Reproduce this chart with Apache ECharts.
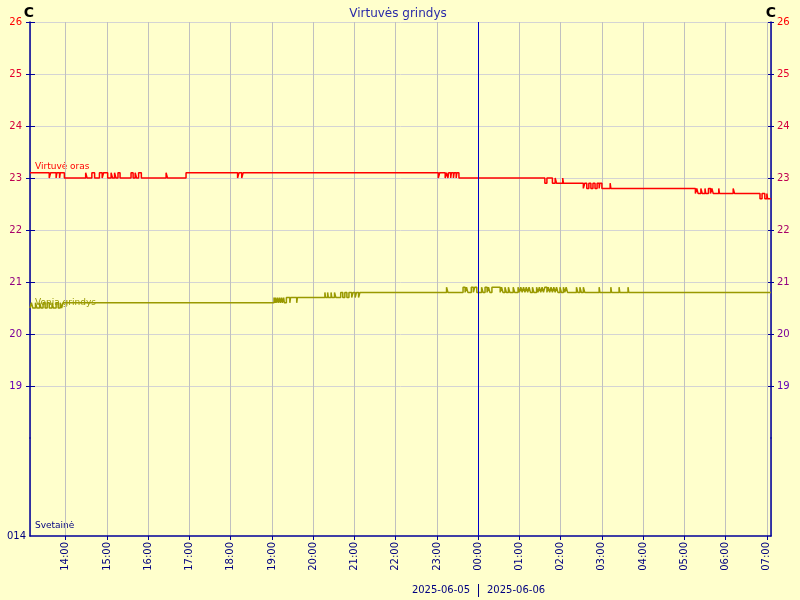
<!DOCTYPE html>
<html><head><meta charset="utf-8">
<script src="https://cdn.jsdelivr.net/npm/echarts@6/dist/echarts.min.js"></script>
<style>html,body{margin:0;padding:0;background:#ffffcc}#c{width:800px;height:600px}</style>
</head><body><div id="c"></div>
<script>
const chartTitle = 'Virtuvės grindys';
const unitLabel = 'C';
const seriesNames = ['Virtuvė oras', 'Vonia grindys', 'Svetainė'];
const dateLeft = '2025-06-05';
const dateRight = '2025-06-06';
const xStartTime = '13:08';
const xEndTime = '07:06';
const dayBreakTime = '00:00';
const lowerAxisLabel = '014';

const airTime = ['13:08','13:36','13:38','13:46','13:47','13:51','13:52','13:58','14:29','14:31','14:38','14:42','14:49','14:53','14:55','15:01','15:06','15:08','15:11','15:13','15:16','15:19','15:35','15:38','15:41','15:43','15:46','15:50','16:26','16:28','16:55','18:10','18:12','18:16','18:18','23:02','23:04','23:12','23:14','23:16','23:17','23:20','23:21','23:24','23:25','23:28','23:29','23:32','01:37','01:40','01:48','01:52','01:54','02:03','02:04','02:33','02:35','02:38','02:41','02:44','02:47','02:50','02:53','02:56','02:57','03:00','03:12','03:13','05:16','05:18','05:20','05:24','05:26','05:30','05:31','05:35','05:38','05:40','05:42','05:50','05:51','06:11','06:13','06:50','06:53','06:57','07:00','07:01','07:06'];
const airTemp = [23.1,23.0,23.1,23.0,23.1,23.0,23.1,23.0,23.1,23.0,23.1,23.0,23.1,23.0,23.1,23.0,23.1,23.0,23.1,23.0,23.1,23.0,23.1,23.0,23.1,23.0,23.1,23.0,23.1,23.0,23.1,23.0,23.1,23.0,23.1,23.0,23.1,23.0,23.1,23.0,23.1,23.0,23.1,23.0,23.1,23.0,23.1,23.0,22.9,23.0,22.9,23.0,22.9,23.0,22.9,22.8,22.9,22.8,22.9,22.8,22.9,22.8,22.9,22.8,22.9,22.8,22.9,22.8,22.7,22.8,22.7,22.8,22.7,22.8,22.7,22.8,22.7,22.8,22.7,22.8,22.7,22.8,22.7,22.6,22.7,22.6,22.7,22.6,22.6];

const floorTime = ['13:08','13:10','13:12','13:16','13:18','13:22','13:24','13:27','13:30','13:33','13:36','13:40','13:42','13:46','13:49','13:52','13:54','13:56','19:03','19:04','19:05','19:06','19:08','19:09','19:11','19:12','19:14','19:15','19:17','19:18','19:21','19:26','19:27','19:36','19:37','20:17','20:18','20:21','20:22','20:26','20:27','20:31','20:33','20:40','20:43','20:46','20:49','20:52','20:56','20:58','21:01','21:03','21:06','21:08','23:14','23:16','23:38','23:41','23:43','23:45','23:50','23:53','23:55','23:58','00:05','00:07','00:10','00:13','00:15','00:17','00:20','00:32','00:34','00:36','00:39','00:41','00:44','00:46','00:51','00:53','00:58','01:00','01:02','01:04','01:06','01:08','01:10','01:12','01:14','01:16','01:19','01:21','01:25','01:27','01:29','01:31','01:33','01:35','01:37','01:40','01:42','01:44','01:46','01:48','01:50','01:52','01:54','01:56','01:59','02:01','02:04','02:06','02:08','02:10','02:23','02:25','02:28','02:30','02:33','02:35','02:56','02:57','03:13','03:14','03:25','03:26','03:38','03:39','07:06'];
const floorTemp = [20.5,20.6,20.5,20.6,20.5,20.6,20.5,20.6,20.5,20.6,20.5,20.6,20.5,20.6,20.5,20.6,20.5,20.6,20.7,20.6,20.7,20.6,20.7,20.6,20.7,20.6,20.7,20.6,20.7,20.6,20.7,20.6,20.7,20.6,20.7,20.8,20.7,20.8,20.7,20.8,20.7,20.8,20.7,20.8,20.7,20.8,20.7,20.8,20.7,20.8,20.7,20.8,20.7,20.8,20.9,20.8,20.9,20.8,20.9,20.8,20.9,20.8,20.9,20.8,20.9,20.8,20.9,20.8,20.9,20.8,20.9,20.8,20.9,20.8,20.9,20.8,20.9,20.8,20.9,20.8,20.9,20.8,20.9,20.8,20.9,20.8,20.9,20.8,20.9,20.8,20.9,20.8,20.9,20.8,20.9,20.8,20.9,20.8,20.9,20.8,20.9,20.8,20.9,20.8,20.9,20.8,20.9,20.8,20.9,20.8,20.9,20.8,20.9,20.8,20.9,20.8,20.9,20.8,20.9,20.8,20.9,20.8,20.9,20.8,20.9,20.8,20.9,20.8,20.8];

const yTickLabels = [19, 20, 21, 22, 23, 24, 25, 26];
const yMin = 18, yMax = 26;

// colours of the tick labels, from top (26) to bottom (19)
const labelColors = {26:'#ff0000',25:'#e6002c',24:'#d4003c',23:'#c00052',22:'#a8006a',21:'#920082',20:'#7a009c',19:'#6400b8'};

function toTs(hhmm) {
  const [h, m] = hhmm.split(':').map(Number);
  const day = h < 12 ? 6 : 5;
  return new Date(2025, 5, day, h, m).getTime();
}
function pad(n){ return (n < 10 ? '0' : '') + n; }

const airData = airTime.map((t, i) => [toTs(t), airTemp[i]]);
const floorData = floorTime.map((t, i) => [toTs(t), floorTemp[i]]);
const xMin = toTs(xStartTime), xMax = toTs(xEndTime), dayBreak = toTs(dayBreakTime);

const FONT = 'DejaVu Sans';
const AX = '#000099';
const VGRID = '#c0c0c0';
const HGRID = '#d4d4d4';

const chart = echarts.init(document.getElementById('c'), null, {renderer: 'canvas'});

const xCommon = {
  type: 'time', min: xMin, max: xMax,
  minInterval: 3600000, maxInterval: 3600000,
  splitLine: {show: true, lineStyle: {color: VGRID, width: 1, opacity: 1}},
};
const yLabelColor = v => labelColors[v] || '#000080';

const option = {
  backgroundColor: '#ffffcc',
  animation: false,
  textStyle: {fontFamily: FONT},
  grid: [
    {left: 30, right: 29, top: 22, height: 416},
    {left: 30, right: 29, top: 438, height: 98}
  ],
  xAxis: [
    Object.assign({}, xCommon, {gridIndex: 0, axisLine: {show: false}, axisTick: {show: false}, axisLabel: {show: false}}),
    Object.assign({}, xCommon, {gridIndex: 1,
      axisLine: {show: true, onZero: false, lineStyle: {color: AX, width: 1.5}},
      axisTick: {show: true, length: 4, lineStyle: {color: AX}},
      axisLabel: {show: true, rotate: 90, margin: 6, color: '#000080', fontSize: 10, fontFamily: FONT,
        showMinLabel: false, showMaxLabel: false,
        formatter: v => { const d = new Date(v); return d.getMinutes() === 0 ? pad(d.getHours()) + ':00' : ''; }}
    })
  ],
  yAxis: [
    {gridIndex: 0, type: 'value', position: 'left', min: yMin, max: yMax, interval: 1,
      axisLine: {show: true, lineStyle: {color: AX, width: 1.5}},
      axisTick: {show: true, length: 4, customValues: yTickLabels, lineStyle: {color: AX}},
      splitLine: {show: true, lineStyle: {color: HGRID, width: 1, opacity: 1}},
      axisLabel: {margin: 8, fontSize: 10, fontFamily: FONT,
        formatter: v => yTickLabels.includes(v) ? String(v) : '', color: yLabelColor}},
    {gridIndex: 0, type: 'value', position: 'right', min: yMin, max: yMax, interval: 1,
      axisLine: {show: true, lineStyle: {color: AX, width: 1.5}},
      axisTick: {show: true, length: 3, customValues: yTickLabels, lineStyle: {color: AX}},
      splitLine: {show: false},
      axisLabel: {margin: 6, fontSize: 10, fontFamily: FONT,
        formatter: v => yTickLabels.includes(v) ? String(v) : '', color: yLabelColor}},
    {gridIndex: 1, type: 'value', position: 'left', min: 0, max: 1, interval: 1,
      axisLine: {show: true, lineStyle: {color: AX, width: 1.5}},
      axisTick: {show: false}, splitLine: {show: false},
      axisLabel: {margin: 4, fontSize: 10, fontFamily: FONT, color: '#000080',
        formatter: v => v === 0 ? lowerAxisLabel : ''}},
    {gridIndex: 1, type: 'value', position: 'right', min: 0, max: 1, interval: 1,
      axisLine: {show: true, lineStyle: {color: AX, width: 1.5}},
      axisTick: {show: false}, splitLine: {show: false}, axisLabel: {show: false}},
    {gridIndex: 0, type: 'value', position: 'left', min: yMin, max: yMax, interval: 1,
      axisLine: {show: false}, splitLine: {show: false}, axisLabel: {show: false},
      axisTick: {show: true, inside: true, length: 5, customValues: yTickLabels, lineStyle: {color: AX}}},
    {gridIndex: 0, type: 'value', position: 'right', min: yMin, max: yMax, interval: 1,
      axisLine: {show: false}, splitLine: {show: false}, axisLabel: {show: false},
      axisTick: {show: true, inside: true, length: 3, customValues: yTickLabels, lineStyle: {color: AX}}}
  ],
  series: [
    {name: seriesNames[0], type: 'line', xAxisIndex: 0, yAxisIndex: 0, step: 'end', showSymbol: false,
      data: airData, lineStyle: {color: '#ff0000', width: 1.5}, itemStyle: {color: '#ff0000'}, z: 3,
      markLine: {silent: true, symbol: 'none', label: {show: false},
        lineStyle: {color: '#0000cc', width: 1, type: 'solid'}, data: [{xAxis: dayBreak}]}},
    {name: seriesNames[1], type: 'line', xAxisIndex: 0, yAxisIndex: 0, step: 'end', showSymbol: false,
      data: floorData, lineStyle: {color: '#999900', width: 1.5}, itemStyle: {color: '#999900'}, z: 3},
    {name: seriesNames[2], type: 'line', xAxisIndex: 1, yAxisIndex: 2, showSymbol: false, data: [],
      markLine: {silent: true, symbol: 'none', label: {show: false},
        lineStyle: {color: '#0000cc', width: 1, type: 'solid'}, data: [{xAxis: dayBreak}]}}
  ],
  graphic: [
    {type: 'text', x: 398, y: 14, style: {text: chartTitle, fill: '#2a2aa8', font: '12px "DejaVu Sans"', textAlign: 'center', textVerticalAlign: 'middle'}},
    {type: 'text', x: 29, y: 13, style: {text: unitLabel, fill: '#000000', font: 'bold 14px "DejaVu Sans"', textAlign: 'center', textVerticalAlign: 'middle'}},
    {type: 'text', x: 771, y: 13, style: {text: unitLabel, fill: '#000000', font: 'bold 14px "DejaVu Sans"', textAlign: 'center', textVerticalAlign: 'middle'}},
    {type: 'text', x: 35, y: 167, style: {text: seriesNames[0], fill: '#ff0000', font: '9px "DejaVu Sans"', textAlign: 'left', textVerticalAlign: 'middle'}},
    {type: 'text', x: 35, y: 303, style: {text: seriesNames[1], fill: '#999900', font: '9px "DejaVu Sans"', textAlign: 'left', textVerticalAlign: 'middle'}},
    {type: 'text', x: 35, y: 526, style: {text: seriesNames[2], fill: '#000080', font: '9px "DejaVu Sans"', textAlign: 'left', textVerticalAlign: 'middle'}},
    {type: 'text', x: 470, y: 590, style: {text: dateLeft, fill: '#000080', font: '10px "DejaVu Sans"', textAlign: 'right', textVerticalAlign: 'middle'}},
    {type: 'text', x: 487, y: 590, style: {text: dateRight, fill: '#000080', font: '10px "DejaVu Sans"', textAlign: 'left', textVerticalAlign: 'middle'}},
    {type: 'line', shape: {x1: 478.5, y1: 584, x2: 478.5, y2: 597}, style: {stroke: '#000080', lineWidth: 1}}
  ]
};
chart.setOption(option);
</script>
</body></html>
